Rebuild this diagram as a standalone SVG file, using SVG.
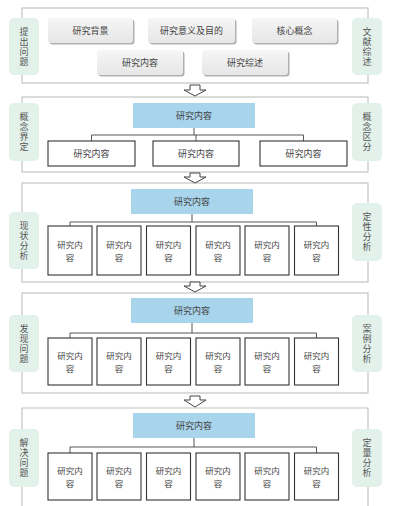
<svg xmlns="http://www.w3.org/2000/svg" width="400" height="506" viewBox="0 0 400 506">
<defs>
<linearGradient id="btn" x1="0" y1="0" x2="0" y2="1">
<stop offset="0" stop-color="#f6f6f6"/>
<stop offset="1" stop-color="#e6e6e6"/>
</linearGradient>
<style>
text{font-family:"Noto Sans CJK SC","Noto Sans",sans-serif;font-size:9px;fill:#444;text-anchor:middle;dominant-baseline:central}
.vt{writing-mode:vertical-rl;letter-spacing:1px;fill:#555}
.sm{font-size:8.5px}
.frame{fill:none;stroke:#c4c4c4;stroke-width:1.2}
.side{fill:#e2f1ea}
.btn{fill:url(#btn)}
.shadow{fill:#b0b0b0}
.blue{fill:#a8d4ec}
.box{fill:#fff;stroke:#333;stroke-width:1.1}
.conn{fill:none;stroke:#444;stroke-width:0.9}
.arrow{fill:#fff;stroke:#444;stroke-width:1}
</style>
</defs>
<rect width="400" height="506" fill="#fff"/>

<g id="frames">
<rect class="frame" x="22" y="8" width="346" height="75"/>
<rect class="frame" x="22" y="97" width="346" height="75"/>
<rect class="frame" x="22" y="183" width="346" height="99"/>
<rect class="frame" x="22" y="293" width="346" height="100"/>
<path class="frame" d="M22,506 V408 H368 V506"/>
</g>

<g id="arrows">
<path class="arrow" d="M190,85 H200 V90 H206 L195,96 L184,90 H190 Z"/>
<path class="arrow" d="M190,173 H200 V177 H206 L195,183 L184,177 H190 Z"/>
<path class="arrow" d="M190,282 H200 V286 H206 L195,292 L184,286 H190 Z"/>
<path class="arrow" d="M190,396 H200 V400 H206 L195,407 L184,400 H190 Z"/>
</g>

<g id="connectors">
<path class="conn" d="M194,128 V135 M91.5,141 V135 H303.5 V141 M196,135 V141"/>
<path class="conn" d="M192,214 V222 M70,226 V222 H316.5 V226"/>
<path class="conn" d="M192,323 V333 M70,338 V333 H316.5 V338"/>
<path class="conn" d="M194,438 V447 M70,453 V447 H316.5 V453"/>
</g>

<!-- Section 1 -->
<g id="s1-left"><rect class="side" x="9" y="18" width="30" height="57" rx="5"/><text class="vt" x="24" y="47">提出问题</text></g>
<g id="s1-right"><rect class="side" x="352" y="18" width="30" height="57" rx="5"/><text class="vt" x="367" y="47">文献综述</text></g>
<g id="btn1"><rect class="shadow" x="49.5" y="19.5" width="85" height="25" rx="3"/><rect class="btn" x="48" y="18" width="85" height="25" rx="3"/><text x="90.5" y="30.5">研究背景</text></g>
<g id="btn2"><rect class="shadow" x="149.5" y="19.5" width="87" height="25" rx="3"/><rect class="btn" x="148" y="18" width="87" height="25" rx="3"/><text x="191.5" y="30.5">研究意义及目的</text></g>
<g id="btn3"><rect class="shadow" x="253.5" y="19.5" width="85" height="25" rx="3"/><rect class="btn" x="252" y="18" width="85" height="25" rx="3"/><text x="294.5" y="30.5">核心概念</text></g>
<g id="btn4"><rect class="shadow" x="98.5" y="51.5" width="86" height="25" rx="3"/><rect class="btn" x="97" y="50" width="86" height="25" rx="3"/><text x="140" y="62.5">研究内容</text></g>
<g id="btn5"><rect class="shadow" x="203.5" y="51.5" width="86" height="25" rx="3"/><rect class="btn" x="202" y="50" width="86" height="25" rx="3"/><text x="245" y="62.5">研究综述</text></g>

<!-- Section 2 -->
<g id="s2-left"><rect class="side" x="9" y="103" width="30" height="58" rx="5"/><text class="vt" x="24" y="132.5">概念界定</text></g>
<g id="s2-right"><rect class="side" x="352" y="103" width="30" height="58" rx="5"/><text class="vt" x="367" y="132.5">概念区分</text></g>
<g id="s2-top"><rect class="blue" x="133" y="103" width="122" height="25"/><text x="194" y="115.5">研究内容</text></g>
<g id="s2-c1"><rect class="box" x="48" y="141" width="87" height="25"/><text x="91.5" y="153.5">研究内容</text></g>
<g id="s2-c2"><rect class="box" x="153" y="141" width="86" height="25"/><text x="196" y="153.5">研究内容</text></g>
<g id="s2-c3"><rect class="box" x="260" y="141" width="87" height="25"/><text x="303.5" y="153.5">研究内容</text></g>

<!-- Section 3 -->
<g id="s3-left"><rect class="side" x="9" y="212" width="30" height="57" rx="5"/><text class="vt" x="24" y="241">现状分析</text></g>
<g id="s3-right"><rect class="side" x="352" y="203" width="30" height="58" rx="5"/><text class="vt" x="367" y="232.5">定性分析</text></g>
<g id="s3-top"><rect class="blue" x="131" y="189" width="122" height="25"/><text x="192" y="201.5">研究内容</text></g>
<g id="s3-c1"><rect class="box" x="48" y="226" width="44" height="49"/><text class="sm" x="70" y="244.25">研究内<tspan x="70" dy="12.5">容</tspan></text></g>
<g id="s3-c2"><rect class="box" x="97" y="226" width="44" height="49"/><text class="sm" x="119" y="244.25">研究内<tspan x="119" dy="12.5">容</tspan></text></g>
<g id="s3-c3"><rect class="box" x="146.5" y="226" width="44" height="49"/><text class="sm" x="168.5" y="244.25">研究内<tspan x="168.5" dy="12.5">容</tspan></text></g>
<g id="s3-c4"><rect class="box" x="196" y="226" width="44" height="49"/><text class="sm" x="218" y="244.25">研究内<tspan x="218" dy="12.5">容</tspan></text></g>
<g id="s3-c5"><rect class="box" x="245" y="226" width="44" height="49"/><text class="sm" x="267" y="244.25">研究内<tspan x="267" dy="12.5">容</tspan></text></g>
<g id="s3-c6"><rect class="box" x="294.5" y="226" width="44" height="49"/><text class="sm" x="316.5" y="244.25">研究内<tspan x="316.5" dy="12.5">容</tspan></text></g>

<!-- Section 4 -->
<g id="s4-left"><rect class="side" x="9" y="315" width="30" height="57" rx="5"/><text class="vt" x="24" y="344">发现问题</text></g>
<g id="s4-right"><rect class="side" x="352" y="315" width="30" height="57" rx="5"/><text class="vt" x="367" y="344">案例分析</text></g>
<g id="s4-top"><rect class="blue" x="131" y="298" width="122" height="25"/><text x="192" y="310.5">研究内容</text></g>
<g id="s4-c1"><rect class="box" x="48" y="338" width="44" height="47"/><text class="sm" x="70" y="355.25">研究内<tspan x="70" dy="12.5">容</tspan></text></g>
<g id="s4-c2"><rect class="box" x="97" y="338" width="44" height="47"/><text class="sm" x="119" y="355.25">研究内<tspan x="119" dy="12.5">容</tspan></text></g>
<g id="s4-c3"><rect class="box" x="146.5" y="338" width="44" height="47"/><text class="sm" x="168.5" y="355.25">研究内<tspan x="168.5" dy="12.5">容</tspan></text></g>
<g id="s4-c4"><rect class="box" x="196" y="338" width="44" height="47"/><text class="sm" x="218" y="355.25">研究内<tspan x="218" dy="12.5">容</tspan></text></g>
<g id="s4-c5"><rect class="box" x="245" y="338" width="44" height="47"/><text class="sm" x="267" y="355.25">研究内<tspan x="267" dy="12.5">容</tspan></text></g>
<g id="s4-c6"><rect class="box" x="294.5" y="338" width="44" height="47"/><text class="sm" x="316.5" y="355.25">研究内<tspan x="316.5" dy="12.5">容</tspan></text></g>

<!-- Section 5 -->
<g id="s5-left"><rect class="side" x="9" y="429" width="30" height="58" rx="5"/><text class="vt" x="24" y="458.5">解决问题</text></g>
<g id="s5-right"><rect class="side" x="352" y="429" width="30" height="58" rx="5"/><text class="vt" x="367" y="458.5">定量分析</text></g>
<g id="s5-top"><rect class="blue" x="133" y="413" width="122" height="25"/><text x="194" y="425.5">研究内容</text></g>
<g id="s5-c1"><rect class="box" x="48" y="453" width="44" height="47"/><text class="sm" x="70" y="470.25">研究内<tspan x="70" dy="12.5">容</tspan></text></g>
<g id="s5-c2"><rect class="box" x="97" y="453" width="44" height="47"/><text class="sm" x="119" y="470.25">研究内<tspan x="119" dy="12.5">容</tspan></text></g>
<g id="s5-c3"><rect class="box" x="146.5" y="453" width="44" height="47"/><text class="sm" x="168.5" y="470.25">研究内<tspan x="168.5" dy="12.5">容</tspan></text></g>
<g id="s5-c4"><rect class="box" x="196" y="453" width="44" height="47"/><text class="sm" x="218" y="470.25">研究内<tspan x="218" dy="12.5">容</tspan></text></g>
<g id="s5-c5"><rect class="box" x="245" y="453" width="44" height="47"/><text class="sm" x="267" y="470.25">研究内<tspan x="267" dy="12.5">容</tspan></text></g>
<g id="s5-c6"><rect class="box" x="294.5" y="453" width="44" height="47"/><text class="sm" x="316.5" y="470.25">研究内<tspan x="316.5" dy="12.5">容</tspan></text></g>
</svg>
